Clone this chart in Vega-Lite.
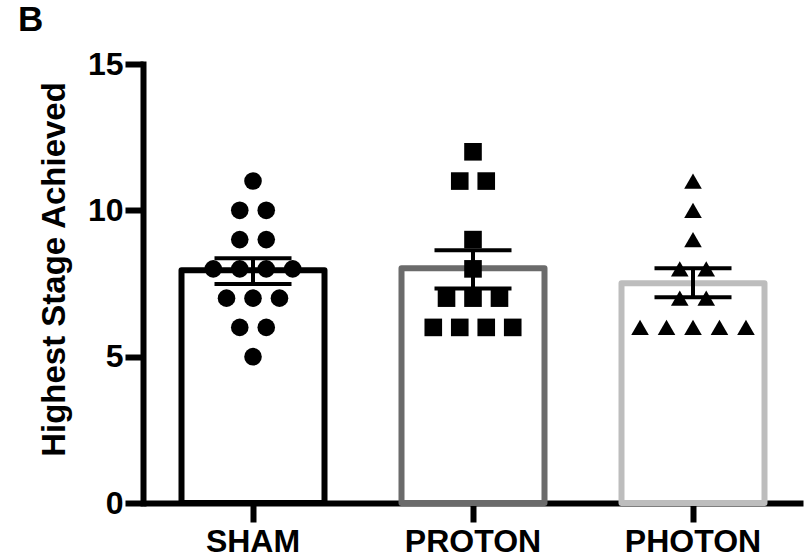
{
  "$schema": "https://vega.github.io/schema/vega-lite/v6.json",
  "width": 660,
  "height": 439,
  "autosize": "none",
  "padding": {"left": 143, "top": 64, "right": 9, "bottom": 55},
  "background": "white",
  "title": {"text": "B", "anchor": "start", "frame": "group", "dx": -125, "fontSize": 35, "font": "Liberation Sans", "fontWeight": "bold", "color": "black", "offset": 10},
  "config": {
    "view": {"stroke": null},
    "axis": {"grid": false, "zindex": 1, "domainColor": "black", "tickColor": "black", "labelColor": "black", "titleColor": "black", "labelFont": "Liberation Sans", "titleFont": "Liberation Sans", "labelFontWeight": "bold", "titleFontWeight": "bold", "labelFontSize": 32, "domainWidth": 6, "tickWidth": 6}
  },
  "datasets": {
    "bars": [
      {"group": "SHAM", "mean": 7.95, "lo": 7.48, "hi": 8.36},
      {"group": "PROTON", "mean": 8.02, "lo": 7.33, "hi": 8.64},
      {"group": "PHOTON", "mean": 7.51, "lo": 7.03, "hi": 8.02}
    ],
    "points": [
      {"group": "SHAM", "value": 11, "off": 0},
      {"group": "SHAM", "value": 10, "off": -1},
      {"group": "SHAM", "value": 10, "off": 1},
      {"group": "SHAM", "value": 9, "off": -1},
      {"group": "SHAM", "value": 9, "off": 1},
      {"group": "SHAM", "value": 8, "off": -3},
      {"group": "SHAM", "value": 8, "off": -1},
      {"group": "SHAM", "value": 8, "off": 1},
      {"group": "SHAM", "value": 8, "off": 3},
      {"group": "SHAM", "value": 7, "off": -2},
      {"group": "SHAM", "value": 7, "off": 0},
      {"group": "SHAM", "value": 7, "off": 2},
      {"group": "SHAM", "value": 6, "off": -1},
      {"group": "SHAM", "value": 6, "off": 1},
      {"group": "SHAM", "value": 5, "off": 0},
      {"group": "PROTON", "value": 12, "off": 0},
      {"group": "PROTON", "value": 11, "off": -1},
      {"group": "PROTON", "value": 11, "off": 1},
      {"group": "PROTON", "value": 9, "off": 0},
      {"group": "PROTON", "value": 8, "off": 0},
      {"group": "PROTON", "value": 7, "off": -2},
      {"group": "PROTON", "value": 7, "off": 0},
      {"group": "PROTON", "value": 7, "off": 2},
      {"group": "PROTON", "value": 6, "off": -3},
      {"group": "PROTON", "value": 6, "off": -1},
      {"group": "PROTON", "value": 6, "off": 1},
      {"group": "PROTON", "value": 6, "off": 3},
      {"group": "PHOTON", "value": 11, "off": 0},
      {"group": "PHOTON", "value": 10, "off": 0},
      {"group": "PHOTON", "value": 9, "off": 0},
      {"group": "PHOTON", "value": 8, "off": -1},
      {"group": "PHOTON", "value": 8, "off": 1},
      {"group": "PHOTON", "value": 7, "off": -1},
      {"group": "PHOTON", "value": 7, "off": 1},
      {"group": "PHOTON", "value": 6, "off": -4},
      {"group": "PHOTON", "value": 6, "off": -2},
      {"group": "PHOTON", "value": 6, "off": 0},
      {"group": "PHOTON", "value": 6, "off": 2},
      {"group": "PHOTON", "value": 6, "off": 4}
    ]
  },
  "resolve": {"scale": {"xOffset": "independent"}},
  "encoding": {
    "x": {"field": "group", "type": "nominal", "sort": ["SHAM", "PROTON", "PHOTON"], "scale": {"type": "band", "paddingInner": 0.35, "paddingOuter": 0.175},
      "axis": {"title": null, "labelAngle": 0, "tickSize": 19, "labelPadding": 4}}
  },
  "layer": [
    {
      "data": {"name": "bars"},
      "mark": {"type": "bar", "fill": "white", "strokeWidth": 6, "strokeJoin": "round", "width": {"band": 1}},
      "encoding": {
        "y": {"field": "mean", "type": "quantitative", "scale": {"domain": [0, 15], "nice": false},
          "axis": {"title": "Highest Stage Achieved", "titleFontSize": 33, "titleY": 205, "values": [0, 5, 10, 15], "tickSize": 18, "labelPadding": 2, "titlePadding": 16, "domainCap": "square"}},
        "stroke": {"field": "group", "type": "nominal", "scale": {"domain": ["SHAM", "PROTON", "PHOTON"], "range": ["#000000", "#6b6b6b", "#bdbdbd"]}, "legend": null}
      }
    },
    {
      "data": {"name": "bars"},
      "mark": {"type": "rule", "strokeWidth": 4, "color": "black"},
      "encoding": {"y": {"field": "lo", "type": "quantitative", "scale": {"domain": [0, 15], "nice": false}}, "y2": {"field": "hi"}}
    },
    {
      "data": {"name": "bars"},
      "mark": {"type": "tick", "size": 77, "thickness": 4, "color": "black", "opacity": 1},
      "encoding": {"y": {"field": "lo", "type": "quantitative", "scale": {"domain": [0, 15], "nice": false}}}
    },
    {
      "data": {"name": "bars"},
      "mark": {"type": "tick", "size": 77, "thickness": 4, "color": "black", "opacity": 1},
      "encoding": {"y": {"field": "hi", "type": "quantitative", "scale": {"domain": [0, 15], "nice": false}}}
    },
    {
      "data": {"name": "points"},
      "mark": {"type": "point", "filled": true, "color": "black", "opacity": 1, "size": 310},
      "encoding": {
        "xOffset": {"field": "off", "type": "quantitative", "scale": {"domain": [-5.4, 5.4]}},
        "y": {"field": "value", "type": "quantitative", "scale": {"domain": [0, 15], "nice": false}},
        "shape": {"field": "group", "type": "nominal", "scale": {"domain": ["SHAM", "PROTON", "PHOTON"], "range": ["circle", "square", "triangle-up"]}, "legend": null}
      }
    }
  ]
}
